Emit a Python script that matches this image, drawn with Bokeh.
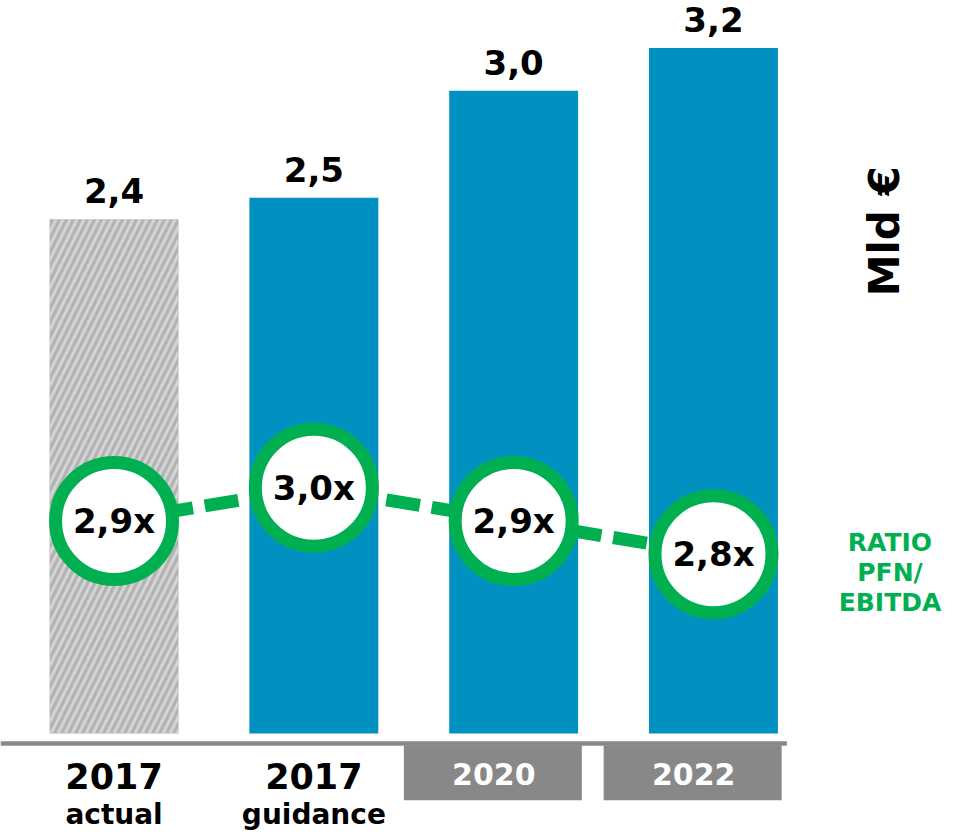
from bokeh.plotting import figure
from bokeh.models import Range1d
from bokeh.core.properties import value
from bokeh.embed import file_html
from bokeh.resources import INLINE

# ---- data ----
categories = ["2017 actual", "2017 guidance", "2020", "2022"]
year_labels = ["2017", "2017", "2020", "2022"]
sub_labels = ["actual", "guidance", "", ""]
debt_values = [2.4, 2.5, 3.0, 3.2]          # Mld €
ratio_values = [2.9, 3.0, 2.9, 2.8]         # PFN / EBITDA
is_actual = [True, False, False, False]     # hatched bar
is_boxed = [False, False, True, True]       # grey label box
unit_label = "Mld €"
ratio_label = ["RATIO", "PFN/", "EBITDA"]

# ---- styling / layout ----
FW, FH = 947, 830
SX, SY = FW / 955, FH / 838
BLUE = "#0091C1"
GREEN = "#00B050"
GREYBOX = "#888888"
FONT = value("DejaVu Sans")

X0, DX = 114.5 * SX, 201.5 * SX      # frame px of first category, px per category
Y0, K = 740.0 * SY, 216.3 * SY       # frame px (from top) of value 0, px per Mld €
RY0, RK = 525.5 * SY, 335.0 * SY     # frame px of ratio 2.9, px per ratio unit


def vx(px_ref):
    return (px_ref * SX - X0) / DX


def vy(py_ref):
    return (Y0 - py_ref * SY) / K


p = figure(width=FW, height=FH, output_backend="svg", toolbar_location=None,
           x_range=Range1d(-X0 / DX, (FW - X0) / DX),
           y_range=Range1d((Y0 - FH) / K, Y0 / K),
           min_border=0, x_axis_location=None, y_axis_location=None,
           outline_line_color=None, background_fill_color="white",
           border_fill_color="white")
p.extra_y_ranges = {"ratio": Range1d(2.9 - (FH - RY0) / RK, 2.9 + RY0 / RK)}
p.xgrid.visible = False
p.ygrid.visible = False

idx = list(range(len(categories)))
bw = 130 / 201.5

# bars
plain = [i for i in idx if not is_actual[i]]
hatch = [i for i in idx if is_actual[i]]
p.vbar(x=plain, top=[debt_values[i] for i in plain], bottom=0, width=bw,
       fill_color=BLUE, line_color=None)
p.vbar(x=hatch, top=[debt_values[i] for i in hatch], bottom=0, width=bw,
       fill_color="#B3B3B3", line_color=None, hatch_pattern="/",
       hatch_color="#D4D4D4", hatch_alpha=1.0, hatch_weight=3, hatch_scale=14)

# bar value labels
p.text(x=idx, y=[v + 29 * SY / K for v in debt_values],
       text=[f"{v:.1f}".replace(".", ",") for v in debt_values],
       text_align="center", text_baseline="middle", text_font=FONT,
       text_font_style="bold", text_font_size="34px", text_color="black")

# baseline
p.quad(left=[vx(0)], right=[vx(793)], top=[vy(748)], bottom=[vy(752.5)],
       fill_color=GREYBOX, line_color=None)

# grey label boxes
boff = -21 / 201.5
bwid = 179.5 / 201.5
bx = [i + boff for i in idx if is_boxed[i]]
p.quad(left=[x - bwid / 2 for x in bx], right=[x + bwid / 2 for x in bx],
       top=vy(752), bottom=vy(807.5), fill_color=GREYBOX, line_color=None)

# category labels
loff = -20 / 201.5
lx = [i + (loff if is_boxed[i] else 0) for i in idx]
p.text(x=[lx[i] for i in idx if not is_boxed[i]], y=vy(783),
       text=[year_labels[i] for i in idx if not is_boxed[i]],
       text_align="center", text_baseline="middle", text_font=FONT,
       text_font_style="bold", text_font_size="35px", text_color="black")
p.text(x=[lx[i] for i in idx if is_boxed[i]], y=vy(781),
       text=[year_labels[i] for i in idx if is_boxed[i]],
       text_align="center", text_baseline="middle", text_font=FONT,
       text_font_style="bold", text_font_size="30px", text_color="white")
p.text(x=[lx[i] for i in idx if sub_labels[i]], y=vy(822),
       text=[sub_labels[i] for i in idx if sub_labels[i]],
       text_align="center", text_baseline="middle", text_font=FONT,
       text_font_style="bold", text_font_size="28px", text_color="black")

# ratio line + circles
p.line(x=idx, y=ratio_values, y_range_name="ratio", line_color=GREEN,
       line_width=13, line_dash="34 12")
p.scatter(x=idx, y=ratio_values, y_range_name="ratio", marker="circle",
          size=117, fill_color="white", line_color=GREEN, line_width=13)
p.text(x=idx, y=ratio_values, y_range_name="ratio",
       text=[f"{r:.1f}x".replace(".", ",") for r in ratio_values],
       text_align="center", text_baseline="middle", text_font=FONT,
       text_font_style="bold", text_font_size="34px", text_color="black")

# unit label (rotated)
p.text(x=[vx(891)], y=[vy(233)], text=[unit_label], angle=1.5707963,
       text_align="center", text_baseline="middle", text_font=FONT,
       text_font_style="bold", text_font_size="42px", text_color="black")

# ratio legend text
p.text(x=[vx(897)] * 3, y=[vy(547), vy(578), vy(608)], text=ratio_label,
       text_align="center", text_baseline="middle", text_font=FONT,
       text_font_style="bold", text_font_size="25px", text_color=GREEN)

open("out.html", "w").write(file_html(p, INLINE))
